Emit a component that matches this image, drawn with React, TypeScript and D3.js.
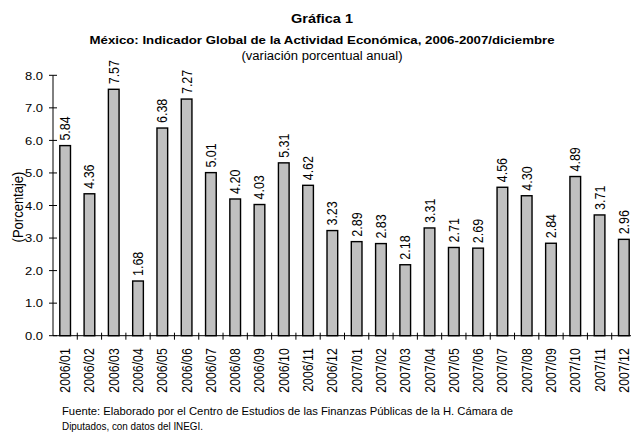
import * as React from "react";
import * as d3 from "d3";

const months = [
  "2006/01", "2006/02", "2006/03", "2006/04", "2006/05", "2006/06",
  "2006/07", "2006/08", "2006/09", "2006/10", "2006/11", "2006/12",
  "2007/01", "2007/02", "2007/03", "2007/04", "2007/05", "2007/06",
  "2007/07", "2007/08", "2007/09", "2007/10", "2007/11", "2007/12",
];
const values = [
  5.84, 4.36, 7.57, 1.68, 6.38, 7.27, 5.01, 4.2, 4.03, 5.31, 4.62, 3.23,
  2.89, 2.83, 2.18, 3.31, 2.71, 2.69, 4.56, 4.3, 2.84, 4.89, 3.71, 2.96,
];
const yTicks = [0, 1, 2, 3, 4, 5, 6, 7, 8];

const font = "'Liberation Sans', Arial, sans-serif";
// the source picture is a bit wider than Arial: stretch glyphs a little
const sx = 1.12;

const App = () => {
  const width = 631;
  const height = 434;
  const left = 53;
  const right = 636;
  const top = 75.3;
  const bottom = 335.7;

  const x = d3.scaleBand().domain(months).range([left, right]).paddingInner(0.56).paddingOuter(0.28);
  const y = d3.scaleLinear().domain([0, 8]).range([bottom, top]);
  const step = x.step();
  const bw = x.bandwidth();

  return (
    <svg
      width={width}
      height={height}
      viewBox={`0 0 ${width} ${height}`}
      style={{ display: "block", position: "absolute", left: 0, top: 0, background: "#fff" }}
      fontFamily={font}
    >
      <text x={322} y={22.5} textAnchor="middle" fontSize="13" fontWeight="bold" textLength={62} lengthAdjust="spacingAndGlyphs">
        Gráfica 1
      </text>
      <text x={322} y={43.5} textAnchor="middle" fontSize="11.8" fontWeight="bold" textLength={465} lengthAdjust="spacingAndGlyphs">
        México: Indicador Global de la Actividad Económica, 2006-2007/diciembre
      </text>
      <text x={322} y={60} textAnchor="middle" fontSize="12" textLength={161} lengthAdjust="spacingAndGlyphs">
        (variación porcentual anual)
      </text>

      {/* bars */}
      {values.map((v, i) => {
        const bx = x(months[i])!;
        const cx = bx + bw / 2;
        return (
          <g key={months[i]}>
            <rect x={bx} y={y(v)} width={bw} height={bottom - y(v)} fill="#c0c0c0" stroke="#000" strokeWidth="1.4" />
            <text
              transform={`translate(${cx + 5}, ${y(v) - 5}) scale(${sx},1) rotate(-90)`}
              fontSize="12.5"
              fill="#000"
            >
              {v.toFixed(2)}
            </text>
            <text
              transform={`translate(${cx + 5}, ${bottom + 12.5}) scale(${sx},1) rotate(-90)`}
              textAnchor="end"
              fontSize="12.3"
              fill="#000"
            >
              {months[i]}
            </text>
          </g>
        );
      })}

      {/* axes */}
      <line x1={left} y1={top} x2={left} y2={bottom} stroke="#000" strokeWidth="1" />
      <line x1={left} y1={bottom} x2={right} y2={bottom} stroke="#000" strokeWidth="1" />
      {yTicks.map((t) => (
        <g key={t}>
          <line x1={left - 4} x2={left + 4} y1={y(t)} y2={y(t)} stroke="#000" />
          <text
            transform={`translate(${left - 10}, ${y(t) + 4.3}) scale(1.1,1)`}
            textAnchor="end"
            fontSize="11.8"
          >
            {t.toFixed(1)}
          </text>
        </g>
      ))}
      {months.slice(1).map((m) => {
        const tx = x(m)! - (step - bw) / 2;
        return <line key={m} x1={tx} x2={tx} y1={bottom - 3} y2={bottom + 4} stroke="#000" />;
      })}

      <text transform={`translate(22.5, 207) scale(${sx},1) rotate(-90)`} textAnchor="middle" fontSize="13">
        (Porcentaje)
      </text>

      <text x={62} y={415} fontSize="11" textLength={451} lengthAdjust="spacingAndGlyphs">
        Fuente: Elaborado por el Centro de Estudios de las Finanzas Públicas de la H. Cámara de
      </text>
      <text x={62} y={430} fontSize="11" textLength={141} lengthAdjust="spacingAndGlyphs">
        Diputados, con datos del INEGI.
      </text>
    </svg>
  );
};

export default App;
